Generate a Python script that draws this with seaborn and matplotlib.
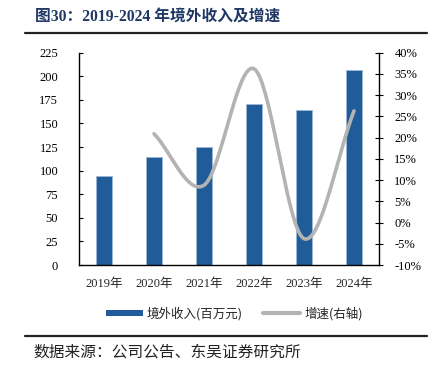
import numpy as np
import pandas as pd
import matplotlib
matplotlib.use('Agg')
import matplotlib.pyplot as plt
from matplotlib.patches import Patch
from matplotlib.lines import Line2D
from matplotlib.ticker import FuncFormatter, MultipleLocator
import seaborn as sns

# data
years = ['2019年', '2020年', '2021年', '2022年', '2023年', '2024年']
revenue = [94.6, 114.5, 124.7, 170.4, 163.8, 207.0]   # 境外收入(百万元)
growth_years = ['2020年', '2021年', '2022年', '2023年', '2024年']
growth = [20.9, 8.8, 36.2, -3.8, 26.3]                 # 增速(%)

sns.set_theme(style='white')
plt.rcParams['font.family'] = ['Liberation Serif', 'Noto Sans CJK SC', 'DejaVu Sans']
plt.rcParams['axes.unicode_minus'] = False

bar_color = '#1F5C99'
line_color = '#B3B3B3'

fig = plt.figure(figsize=(4.32, 3.71), dpi=100)
ax = fig.add_axes([0.183, 0.2857, 0.6944, 0.5723])

df = pd.DataFrame({'year': years, 'revenue': revenue})
sns.barplot(data=df, x='year', y='revenue', color=bar_color, width=0.31,
            edgecolor='#9DB8D6', linewidth=0.6, saturation=1, ax=ax)
ax.set_ylim(0, 225)
ax.set_xlim(-0.5, 5.5)
ax.yaxis.set_major_locator(MultipleLocator(25))
ax.set_xlabel('')
ax.set_ylabel('')
ax.set_xticks(np.arange(len(years)))
ax.set_xticklabels(years)
ax.set_xticks(np.arange(-0.5, len(years)), minor=True)
ax.tick_params(axis='x', which='major', length=0, labelsize=9, pad=9)
ax.tick_params(axis='x', which='minor', direction='in', length=3, width=0.8, colors='black')
ax.tick_params(axis='y', direction='in', length=3, width=0.8, labelsize=9, colors='black', pad=15)
for s in ['left', 'bottom']:
    ax.spines[s].set_color('black')
    ax.spines[s].set_linewidth(1.0)
ax.spines['top'].set_visible(False)
ax.spines['right'].set_visible(False)

# smoothed growth line on the right axis (Catmull-Rom through the points)
ax2 = ax.twinx()
gx = np.array([years.index(y) for y in growth_years], dtype=float)
gy = np.array(growth, dtype=float)
px = np.concatenate([[2 * gx[0] - gx[1]], gx, [2 * gx[-1] - gx[-2]]])
py = np.concatenate([[2 * gy[0] - gy[1]], gy, [2 * gy[-1] - gy[-2]]])
sx, sy = [], []
t = np.linspace(0, 1, 40)
for i in range(1, len(px) - 2):
    for arr, out in ((px, sx), (py, sy)):
        p0, p1, p2, p3 = arr[i - 1], arr[i], arr[i + 1], arr[i + 2]
        out.extend(0.5 * (2 * p1 + (-p0 + p2) * t + (2 * p0 - 5 * p1 + 4 * p2 - p3) * t ** 2
                          + (-p0 + 3 * p1 - 3 * p2 + p3) * t ** 3))
sns.lineplot(x=sx, y=sy, sort=False, color=line_color, linewidth=2.6, ax=ax2)
ax2.set_ylim(-10, 40)
ax2.yaxis.set_major_locator(MultipleLocator(5))
ax2.yaxis.set_major_formatter(FuncFormatter(lambda v, p: f'{v:.0f}%'))
ax2.tick_params(axis='y', direction='inout', length=6, width=0.8, labelsize=9, colors='black', pad=8)
ax2.spines['right'].set_color('black')
ax2.spines['right'].set_linewidth(1.0)
for s in ['top', 'left', 'bottom']:
    ax2.spines[s].set_visible(False)
ax2.set_xlim(-0.5, 5.5)

handles = [Patch(facecolor=bar_color, edgecolor='none'),
           Line2D([0], [0], color=line_color, linewidth=3)]
fig.legend(handles, ['境外收入(百万元)', '增速(右轴)'], loc='center', bbox_to_anchor=(0.542, 0.155),
           ncol=2, frameon=False, handlelength=3.0, handleheight=0.45,
           columnspacing=1.6, handletextpad=0.3,
           prop={'family': ['Noto Sans CJK SC'], 'size': 9})

fig.text(0.081, 0.953, '图30：2019-2024 年境外收入及增速', fontsize=11.3, fontweight='bold',
         color='#1F3864', va='center', ha='left')
fig.add_artist(Line2D([0.058, 0.988], [0.911, 0.911], color='#222222', linewidth=1.6))
fig.add_artist(Line2D([0.058, 0.988], [0.095, 0.095], color='#222222', linewidth=1.6))
fig.text(0.077, 0.051, '数据来源：公司公告、东吴证券研究所', fontsize=11.3, color='#222222',
         va='center', ha='left', family=['Noto Sans CJK SC'])

fig.savefig('out.png', dpi=100)
